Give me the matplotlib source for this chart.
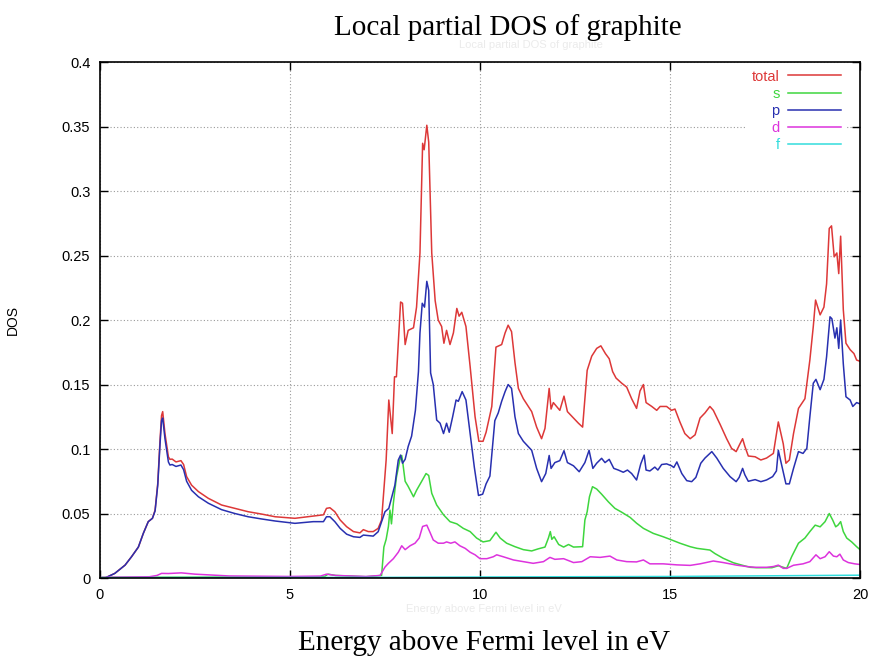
import numpy as np
import matplotlib
matplotlib.use("Agg")
import matplotlib.pyplot as plt

# (energy in eV, DOS) pairs for each projected channel
total = [(0.0, 0.0), (0.13, 0.0), (0.39, 0.0036), (0.66, 0.010), (0.83, 0.0165), (1.01, 0.024),
         (1.14, 0.0346), (1.27, 0.0437), (1.38, 0.0463), (1.45, 0.0527), (1.52, 0.0734), (1.58, 0.107),
         (1.62, 0.126), (1.65, 0.129), (1.71, 0.112), (1.8, 0.094), (1.84, 0.092), (1.9, 0.0922),
         (2.0, 0.090), (2.13, 0.091), (2.2, 0.088), (2.28, 0.0786), (2.41, 0.072), (2.59, 0.067),
         (2.85, 0.0618), (3.2, 0.0566), (3.55, 0.054), (3.9, 0.0514), (4.25, 0.0496), (4.61, 0.0475),
         (5.13, 0.0463), (5.61, 0.048), (5.88, 0.049), (5.96, 0.054), (6.05, 0.0545), (6.18, 0.0514),
         (6.32, 0.045), (6.49, 0.0398), (6.67, 0.036), (6.84, 0.035), (6.93, 0.0375), (7.06, 0.036),
         (7.19, 0.036), (7.32, 0.0385), (7.41, 0.045), (7.47, 0.068), (7.53, 0.0915), (7.6, 0.138),
         (7.69, 0.112), (7.75, 0.156), (7.8, 0.156), (7.91, 0.214), (7.96, 0.213), (8.03, 0.181),
         (8.11, 0.192), (8.25, 0.194), (8.33, 0.21), (8.42, 0.252), (8.49, 0.337), (8.53, 0.332),
         (8.6, 0.351), (8.65, 0.338), (8.73, 0.252), (8.82, 0.215), (8.9, 0.2), (8.99, 0.195),
         (9.05, 0.182), (9.12, 0.192), (9.21, 0.181), (9.3, 0.19), (9.39, 0.209), (9.45, 0.203),
         (9.52, 0.206), (9.63, 0.195), (9.74, 0.164), (9.87, 0.125), (9.97, 0.106), (10.08, 0.106),
         (10.16, 0.113), (10.31, 0.133), (10.42, 0.179), (10.57, 0.181), (10.66, 0.19), (10.74, 0.196),
         (10.83, 0.191), (10.92, 0.167), (11.01, 0.147), (11.14, 0.139), (11.36, 0.129), (11.49, 0.117),
         (11.62, 0.108), (11.71, 0.116), (11.82, 0.147), (11.87, 0.131), (11.93, 0.136), (12.1, 0.13),
         (12.21, 0.141), (12.3, 0.129), (12.46, 0.124), (12.59, 0.12), (12.7, 0.117), (12.82, 0.161),
         (12.94, 0.172), (13.07, 0.178), (13.18, 0.18), (13.3, 0.174), (13.4, 0.17), (13.49, 0.16),
         (13.58, 0.155), (13.73, 0.151), (13.86, 0.148), (13.99, 0.139), (14.12, 0.1315), (14.21, 0.145),
         (14.3, 0.15), (14.37, 0.136), (14.52, 0.133), (14.65, 0.13), (14.74, 0.133), (14.91, 0.133),
         (15.04, 0.13), (15.13, 0.131), (15.26, 0.121), (15.39, 0.112), (15.53, 0.108), (15.66, 0.111),
         (15.79, 0.124), (15.92, 0.128), (16.05, 0.133), (16.14, 0.13), (16.32, 0.119), (16.49, 0.108),
         (16.62, 0.1005), (16.74, 0.098), (16.84, 0.104), (16.91, 0.108), (16.97, 0.102), (17.06, 0.0946),
         (17.24, 0.094), (17.39, 0.0915), (17.54, 0.093), (17.72, 0.0966), (17.85, 0.121), (17.98, 0.104),
         (18.05, 0.089), (18.14, 0.0915), (18.25, 0.112), (18.38, 0.1315), (18.46, 0.135), (18.55, 0.139),
         (18.68, 0.169), (18.77, 0.195), (18.83, 0.2155), (18.95, 0.204), (19.05, 0.21), (19.12, 0.228),
         (19.19, 0.271), (19.25, 0.273), (19.32, 0.249), (19.39, 0.252), (19.44, 0.236), (19.49, 0.265),
         (19.56, 0.208), (19.63, 0.182), (19.74, 0.177), (19.84, 0.174), (19.91, 0.169), (20.0, 0.168)]

s_orb = [(0.0, 0.0005), (5.0, 0.0008), (5.9, 0.001), (6.0, 0.003), (6.2, 0.002), (7.0, 0.001),
         (7.41, 0.002), (7.47, 0.024), (7.53, 0.030), (7.59, 0.040), (7.63, 0.0527), (7.67, 0.042),
         (7.72, 0.058), (7.8, 0.078), (7.89, 0.0915), (7.94, 0.095), (7.97, 0.089), (8.03, 0.075),
         (8.11, 0.071), (8.25, 0.063), (8.33, 0.068), (8.46, 0.0747), (8.58, 0.081), (8.65, 0.0795),
         (8.73, 0.0657), (8.86, 0.0566), (9.04, 0.049), (9.21, 0.0437), (9.39, 0.042), (9.56, 0.0385),
         (9.74, 0.036), (9.91, 0.031), (10.08, 0.028), (10.26, 0.029), (10.42, 0.0355), (10.53, 0.031),
         (10.7, 0.027), (10.92, 0.0243), (11.14, 0.022), (11.36, 0.021), (11.53, 0.0226), (11.71, 0.024),
         (11.8, 0.031), (11.85, 0.036), (11.89, 0.03), (11.95, 0.032), (12.07, 0.026), (12.2, 0.024),
         (12.33, 0.026), (12.46, 0.024), (12.7, 0.0243), (12.76, 0.045), (12.82, 0.0514), (12.88, 0.063),
         (12.96, 0.0708), (13.07, 0.069), (13.2, 0.065), (13.38, 0.059), (13.55, 0.054), (13.73, 0.051),
         (13.95, 0.047), (14.12, 0.0425), (14.3, 0.0385), (14.56, 0.0346), (14.82, 0.032), (15.0, 0.030),
         (15.26, 0.027), (15.53, 0.0243), (15.71, 0.023), (16.05, 0.0217), (16.18, 0.019), (16.4, 0.0153),
         (16.67, 0.0118), (16.89, 0.010), (17.11, 0.0083), (17.28, 0.008), (17.46, 0.008), (17.68, 0.008),
         (17.85, 0.0095), (18.07, 0.0075), (18.2, 0.0165), (18.38, 0.027), (18.55, 0.031), (18.68, 0.036),
         (18.82, 0.041), (18.95, 0.0397), (19.08, 0.0437), (19.19, 0.050), (19.28, 0.045), (19.36, 0.0397),
         (19.42, 0.041), (19.49, 0.0437), (19.56, 0.036), (19.65, 0.031), (19.78, 0.028), (19.91, 0.0243),
         (20.0, 0.022)]

p_orb = [(0.0, 0.0), (0.13, 0.0), (0.39, 0.0036), (0.66, 0.010), (0.83, 0.0165), (1.01, 0.024),
         (1.14, 0.0346), (1.27, 0.0437), (1.38, 0.0463), (1.45, 0.052), (1.52, 0.072), (1.58, 0.104),
         (1.62, 0.122), (1.65, 0.124), (1.71, 0.108), (1.8, 0.090), (1.84, 0.0876), (1.9, 0.088),
         (2.0, 0.0865), (2.13, 0.0876), (2.2, 0.084), (2.28, 0.075), (2.41, 0.068), (2.59, 0.063),
         (2.85, 0.058), (3.2, 0.053), (3.55, 0.050), (3.9, 0.0475), (4.25, 0.0458), (4.61, 0.0442),
         (5.13, 0.0424), (5.61, 0.0437), (5.88, 0.0437), (5.96, 0.0475), (6.05, 0.0475), (6.18, 0.0437),
         (6.32, 0.0385), (6.49, 0.034), (6.67, 0.032), (6.84, 0.0315), (6.93, 0.0333), (7.19, 0.0325),
         (7.32, 0.0359), (7.41, 0.0437), (7.5, 0.0514), (7.6, 0.054), (7.67, 0.062), (7.72, 0.068),
         (7.76, 0.072), (7.85, 0.0915), (7.91, 0.0953), (7.96, 0.089), (8.03, 0.092), (8.11, 0.102),
         (8.2, 0.11), (8.3, 0.13), (8.38, 0.16), (8.42, 0.19), (8.48, 0.213), (8.54, 0.21), (8.6, 0.23),
         (8.65, 0.223), (8.7, 0.159), (8.77, 0.15), (8.86, 0.1225), (8.95, 0.12), (9.04, 0.112),
         (9.12, 0.12), (9.19, 0.113), (9.28, 0.125), (9.37, 0.138), (9.43, 0.137), (9.53, 0.1445),
         (9.63, 0.138), (9.74, 0.112), (9.85, 0.086), (9.96, 0.064), (10.07, 0.065), (10.16, 0.073),
         (10.26, 0.079), (10.39, 0.122), (10.48, 0.128), (10.57, 0.137), (10.66, 0.1445), (10.74, 0.15),
         (10.83, 0.147), (10.92, 0.125), (11.01, 0.112), (11.14, 0.106), (11.36, 0.099), (11.49, 0.085),
         (11.62, 0.0747), (11.73, 0.081), (11.82, 0.095), (11.87, 0.085), (11.97, 0.0895), (12.1, 0.091),
         (12.21, 0.0987), (12.3, 0.0895), (12.46, 0.087), (12.61, 0.0824), (12.76, 0.0895), (12.87, 0.099),
         (12.97, 0.085), (13.07, 0.089), (13.2, 0.0928), (13.29, 0.0895), (13.4, 0.092), (13.52, 0.085),
         (13.64, 0.0837), (13.77, 0.082), (13.88, 0.0837), (13.99, 0.081), (14.12, 0.076), (14.23, 0.0885),
         (14.32, 0.0953), (14.37, 0.0837), (14.47, 0.083), (14.6, 0.086), (14.68, 0.0837), (14.78, 0.088),
         (14.91, 0.0885), (15.04, 0.087), (15.1, 0.0857), (15.18, 0.09), (15.31, 0.081), (15.44, 0.0755),
         (15.57, 0.0747), (15.68, 0.078), (15.81, 0.089), (15.92, 0.093), (16.1, 0.098), (16.23, 0.093),
         (16.4, 0.085), (16.58, 0.0786), (16.74, 0.0747), (16.82, 0.078), (16.91, 0.085), (16.97, 0.08),
         (17.06, 0.075), (17.24, 0.0763), (17.39, 0.0747), (17.54, 0.076), (17.7, 0.0786), (17.8, 0.083),
         (17.85, 0.099), (17.98, 0.082), (18.05, 0.073), (18.14, 0.073), (18.25, 0.085), (18.38, 0.098),
         (18.5, 0.0966), (18.6, 0.1005), (18.68, 0.125), (18.77, 0.151), (18.84, 0.154), (18.95, 0.146),
         (19.05, 0.154), (19.12, 0.1715), (19.21, 0.2025), (19.26, 0.201), (19.34, 0.186), (19.39, 0.194),
         (19.44, 0.178), (19.49, 0.2), (19.56, 0.166), (19.63, 0.1405), (19.74, 0.138), (19.81, 0.133),
         (19.91, 0.136), (20.0, 0.135)]

d_orb = [(0.0, 0.0005), (1.3, 0.001), (1.5, 0.002), (1.62, 0.0036), (1.8, 0.0035), (2.14, 0.004),
         (2.5, 0.003), (3.4, 0.0016), (5.0, 0.0012), (5.8, 0.0015), (5.96, 0.003), (6.2, 0.002),
         (7.0, 0.0012), (7.37, 0.002), (7.5, 0.0085), (7.59, 0.0114), (7.72, 0.015), (7.85, 0.02),
         (7.94, 0.025), (8.03, 0.022), (8.16, 0.025), (8.29, 0.027), (8.4, 0.031), (8.49, 0.04),
         (8.6, 0.041), (8.69, 0.035), (8.77, 0.0295), (8.9, 0.027), (9.04, 0.027), (9.12, 0.028),
         (9.23, 0.027), (9.34, 0.028), (9.47, 0.025), (9.61, 0.023), (9.74, 0.020), (9.87, 0.018),
         (10.0, 0.015), (10.18, 0.015), (10.35, 0.0165), (10.44, 0.018), (10.61, 0.0165), (10.88, 0.014),
         (11.14, 0.0127), (11.4, 0.0114), (11.67, 0.0127), (11.84, 0.016), (11.97, 0.0145), (12.2, 0.015),
         (12.46, 0.012), (12.68, 0.0127), (12.9, 0.0165), (13.16, 0.016), (13.42, 0.017), (13.6, 0.014),
         (13.86, 0.0127), (14.12, 0.0125), (14.3, 0.014), (14.47, 0.011), (14.82, 0.011), (15.18, 0.0102),
         (15.53, 0.0098), (15.79, 0.011), (16.14, 0.0132), (16.4, 0.012), (16.75, 0.010), (17.02, 0.0089),
         (17.24, 0.0083), (17.54, 0.0083), (17.72, 0.0089), (17.85, 0.010), (17.98, 0.0075), (18.07, 0.0075),
         (18.25, 0.0099), (18.5, 0.011), (18.68, 0.0127), (18.84, 0.018), (18.95, 0.015), (19.08, 0.0165),
         (19.19, 0.0204), (19.3, 0.017), (19.39, 0.0165), (19.47, 0.0185), (19.56, 0.014), (19.69, 0.012),
         (19.86, 0.011), (20.0, 0.0105)]

f_orb = [(0.0, 0.0003), (7.4, 0.0005), (10.0, 0.0008), (15.0, 0.0012), (18.0, 0.0018), (20.0, 0.0022)]

series = [("total", total, "#dd3838"),
          ("s", s_orb, "#3ed63e"),
          ("p", p_orb, "#2830b0"),
          ("d", d_orb, "#dd33dd"),
          ("f", f_orb, "#33dddd")]

plt.rcParams['font.family'] = ['Liberation Sans', 'DejaVu Sans']

fig = plt.figure(figsize=(8.71, 6.6), dpi=100)
ax = fig.add_axes([0.1148, 0.1242, 0.8726, 0.7818])

for name, pts, col in series:
    e, dos = np.array(pts).T
    ax.plot(e, dos, color=col, lw=1.1, label=name)

ax.set_xlim(0, 20)
ax.set_ylim(0, 0.4)
ax.set_xticks([0, 5, 10, 15, 20])
ax.set_yticks(np.arange(0, 0.41, 0.05))
ax.set_yticklabels(["0", "0.05", "0.1", "0.15", "0.2", "0.25", "0.3", "0.35", "0.4"])
ax.tick_params(direction="in", length=6, width=1, top=True, right=True, labelsize=10.5, pad=7)
ax.grid(True, color="#9a9a9a", linestyle=(0, (1, 2)), linewidth=0.8)
for sp in ax.spines.values():
    sp.set_linewidth(1.2)

ax.set_ylabel("DOS", fontsize=10, labelpad=30)

leg = ax.legend(loc="upper right", bbox_to_anchor=(0.99, 1.008), markerfirst=False,
                frameon=True, fancybox=False, edgecolor="none", facecolor="white", framealpha=1,
                fontsize=10.5, handlelength=3.6, handletextpad=0.6, labelspacing=0.22,
                borderpad=0.3, labelcolor="linecolor")

# faint ghost labels left behind by the original plot
fig.text(0.61, 0.928, "Local partial DOS of graphite", color="#ebebeb", fontsize=8, ha="center")
fig.text(0.555, 0.073, "Energy above Fermi level in eV", color="#ebebeb", fontsize=8, ha="center")

fig.text(0.583, 0.958, "Local partial DOS of graphite", family="Liberation Serif",
         fontsize=21, ha="center", va="center")
fig.text(0.556, 0.026, "Energy above Fermi level in eV", family="Liberation Serif",
         fontsize=21, ha="center", va="center")

fig.savefig("out.png", dpi=100)
